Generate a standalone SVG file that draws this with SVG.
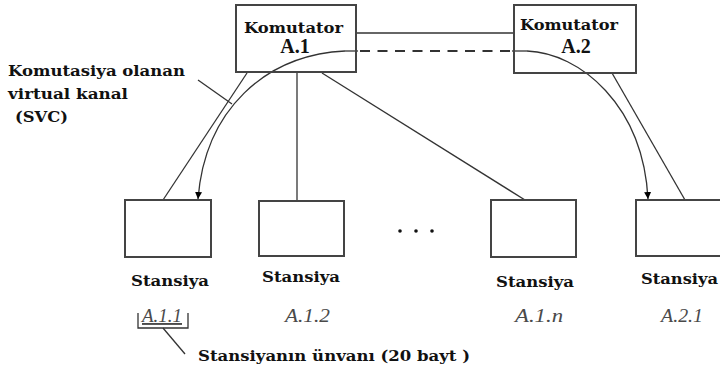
<svg xmlns="http://www.w3.org/2000/svg" width="720" height="372" viewBox="0 0 720 372">
  <defs>
    <marker id="arrow" viewBox="0 0 10 10" refX="10" refY="5" markerWidth="7" markerHeight="9" markerUnits="userSpaceOnUse" orient="auto">
      <path d="M0,0 L10,5 L0,10 Z" fill="#000"/>
    </marker>
    <style>
      .box { fill: #fff; stroke: #444; stroke-width: 2; }
      .line { fill: none; stroke: #333; stroke-width: 1.3; }
      .title { font-family: "DejaVu Serif", "Liberation Serif", serif; font-weight: bold; font-size: 14px; fill: #111; }
      .big { font-family: "Liberation Serif", serif; font-weight: bold; font-size: 20px; fill: #111; }
      .addr { font-family: "Liberation Serif", serif; font-style: italic; font-size: 19px; fill: #4a4a4a; }
      .note { font-family: "DejaVu Serif", "Liberation Serif", serif; font-weight: bold; font-size: 14px; fill: #111; }
    </style>
  </defs>

  <rect width="720" height="372" fill="#fff"/>

  <!-- connectors -->
  <g id="connectors">
    <!-- trunk between switches -->
    <line class="line" x1="356" y1="33" x2="514" y2="33"/>
    <!-- switch A.1 to its stations -->
    <line class="line" x1="247" y1="73" x2="163" y2="200"/>
    <line class="line" x1="297" y1="73" x2="297" y2="200"/>
    <line class="line" x1="322" y1="73" x2="525" y2="200"/>
    <!-- switch A.2 to station A.2.1 -->
    <line class="line" x1="612" y1="73" x2="685" y2="200"/>
    <!-- switched virtual circuit -->
    <path class="line" d="M345,51 C265,55 205,110 198,199" marker-end="url(#arrow)"/>
    <line class="line" x1="345" y1="51" x2="358" y2="51"/>
    <line class="line" x1="360" y1="51" x2="512" y2="51" stroke-dasharray="10 7.5" style="stroke-width:2"/>
    <line class="line" x1="512" y1="51" x2="527" y2="51"/>
    <path class="line" d="M527,51 C580,53 643,105 648,199" marker-end="url(#arrow)"/>
    <!-- label pointer -->
    <line class="line" x1="198" y1="80" x2="232" y2="104"/>
    <!-- address bracket -->
    <path class="line" d="M138,313 V328 H188 V313"/>
    <line class="line" x1="163" y1="328" x2="185" y2="354"/>
  </g>

  <g id="switch-a1">
    <rect class="box" x="236" y="5" width="120" height="67" fill-opacity="0"/>
    <text class="title" x="244" y="33" textLength="99" lengthAdjust="spacingAndGlyphs">Komutator</text>
    <text class="big" x="295" y="53" text-anchor="middle">A.1</text>
  </g>

  <g id="switch-a2">
    <rect class="box" x="514" y="5" width="122" height="68" fill-opacity="0"/>
    <text class="title" x="520" y="30" textLength="98" lengthAdjust="spacingAndGlyphs">Komutator</text>
    <text class="big" x="576" y="53" text-anchor="middle">A.2</text>
  </g>

  <g id="station-a11">
    <rect class="box" x="125" y="200" width="86" height="57"/>
    <text class="title" x="131" y="286" textLength="78" lengthAdjust="spacingAndGlyphs">Stansiya</text>
    <text class="addr" x="142" y="322" textLength="40" lengthAdjust="spacingAndGlyphs" text-decoration="underline">A.1.1</text>
  </g>

  <g id="station-a12">
    <rect class="box" x="259" y="201" width="85" height="55"/>
    <text class="title" x="262" y="282" textLength="78" lengthAdjust="spacingAndGlyphs">Stansiya</text>
    <text class="addr" x="285" y="322" textLength="45" lengthAdjust="spacingAndGlyphs">A.1.2</text>
  </g>

  <g id="ellipsis">
    <circle cx="400" cy="231" r="1.8" fill="#111"/>
    <circle cx="416" cy="231" r="1.8" fill="#111"/>
    <circle cx="432" cy="231" r="1.8" fill="#111"/>
  </g>

  <g id="station-a1n">
    <rect class="box" x="491" y="200" width="85" height="57"/>
    <text class="title" x="496" y="287" textLength="78" lengthAdjust="spacingAndGlyphs">Stansiya</text>
    <text class="addr" x="515" y="322" textLength="48" lengthAdjust="spacingAndGlyphs">A.1.n</text>
  </g>

  <g id="station-a21">
    <rect class="box" x="636" y="200" width="90" height="56"/>
    <text class="title" x="641" y="284" textLength="77" lengthAdjust="spacingAndGlyphs">Stansiya</text>
    <text class="addr" x="661" y="322" textLength="42" lengthAdjust="spacingAndGlyphs">A.2.1</text>
  </g>

  <g id="svc-label">
    <text class="note" x="8" y="76" textLength="177" lengthAdjust="spacingAndGlyphs">Komutasiya olanan</text>
    <text class="note" x="8" y="99" textLength="120" lengthAdjust="spacingAndGlyphs">virtual kanal</text>
    <text class="note" x="15" y="122" textLength="53" lengthAdjust="spacingAndGlyphs">(SVC)</text>
  </g>

  <g id="address-label">
    <text class="note" x="198" y="361" textLength="272" lengthAdjust="spacingAndGlyphs">Stansiyanın ünvanı (20 bayt )</text>
  </g>
</svg>
